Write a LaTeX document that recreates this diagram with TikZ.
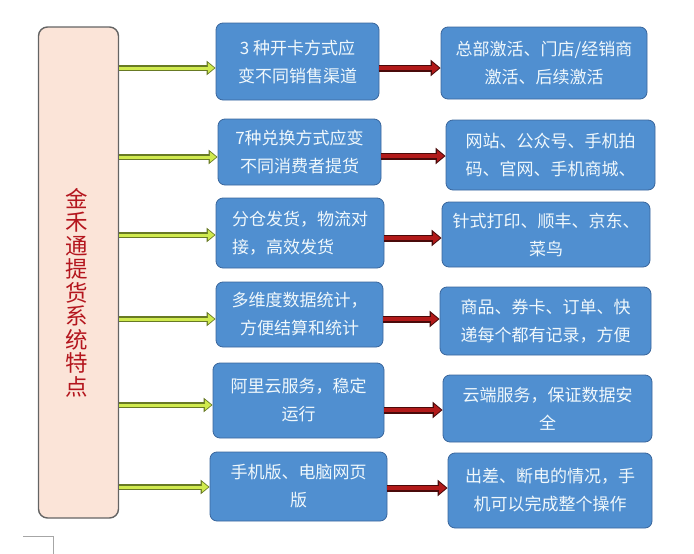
\documentclass[tikz,border=0pt]{standalone}
\usepackage{fontspec}
\setmainfont{Noto Sans CJK SC}
\usetikzlibrary{arrows.meta}
\definecolor{boxblue}{RGB}{80,143,208}
\definecolor{boxedge}{RGB}{58,102,156}
\definecolor{boxtext}{RGB}{240,248,252}
\definecolor{peach}{RGB}{251,228,216}
\definecolor{peachedge}{RGB}{100,100,100}
\definecolor{titlered}{RGB}{180,22,30}
\definecolor{gfill}{RGB}{208,234,78}
\definecolor{gedge}{RGB}{104,122,36}
\definecolor{rfill}{RGB}{178,26,26}
\definecolor{redge}{RGB}{74,10,10}
\tikzset{
  bluebox/.style={draw=boxedge, fill=boxblue, line width=0.8pt, rounded corners=7pt,
    text=boxtext, align=center, inner sep=0pt, font=\fontsize{17}{28}\selectfont},
  garrow/.style={draw=gfill, line width=3pt, shorten >=1.3pt, -{Triangle[length=6.5pt,width=10pt]},
    preaction={draw=gedge, line width=5.5pt, shorten >=0pt, -{Triangle[length=9pt,width=14pt]}}},
  rarrow/.style={draw=rfill, line width=4pt, shorten >=1.5pt, -{Triangle[length=7pt,width=11pt]},
    preaction={draw=redge, line width=7pt, shorten >=0pt, -{Triangle[length=10pt,width=16pt]}}}
}
\begin{document}
\begin{tikzpicture}[x=1pt,y=-1pt]
                \useasboundingbox (0,0) rectangle (694,554);
                \node[draw=peachedge, fill=peach, line width=1.4pt, rounded corners=9pt,
                  minimum width=80pt, minimum height=491pt] (main) at (78.5,272.5) {};
                \node[text=titlered, align=center, inner sep=0pt,
                  font=\fontsize{22.5}{23.5}\selectfont] (title) at (77,292.5)
                  {金\\禾\\通\\提\\货\\系\\统\\特\\点};

                \node[bluebox, minimum width=163pt, minimum height=77pt] (m1) at (297.5,61.5) {3 种开卡方式应\\变不同销售渠道};
                \node[bluebox, minimum width=163pt, minimum height=66pt] (m2) at (299.5,152) {7种兑换方式应变\\不同消费者提货};
                \node[bluebox, minimum width=168pt, minimum height=70pt, align=left] (m3) at (300,233) {分仓发货，物流对\\接，高效发货};
                \node[bluebox, minimum width=167pt, minimum height=65pt] (m4) at (299.5,314.5) {多维度数据统计，\\方便结算和统计};
                \node[bluebox, minimum width=171pt, minimum height=75pt] (m5) at (298.5,400.5) {阿里云服务，稳定\\运行};
                \node[bluebox, minimum width=177pt, minimum height=69pt] (m6) at (298.5,486.5) {手机版、电脑网页\\版};

                \node[bluebox, minimum width=206pt, minimum height=72pt] (r1) at (544,63) {总部激活、门店/经销商\\激活、后续激活};
                \node[bluebox, minimum width=209pt, minimum height=70pt] (r2) at (550.5,155) {网站、公众号、手机拍\\码、官网、手机商城、};
                \node[bluebox, minimum width=208pt, minimum height=65pt] (r3) at (546,234.5) {针式打印、顺丰、京东、\\菜鸟};
                \node[bluebox, minimum width=211pt, minimum height=68pt] (r4) at (545.5,321) {商品、券卡、订单、快\\递每个都有记录，方便};
                \node[bluebox, minimum width=209pt, minimum height=67pt] (r5) at (547.5,408.5) {云端服务，保证数据安\\全};
                \node[bluebox, minimum width=204pt, minimum height=75pt] (r6) at (550,490.5) {出差、断电的情况，手\\机可以完成整个操作};

                \draw[garrow] ([yshift=-6.5pt]main.east |- m1.west) -- ([yshift=-6.5pt]m1.west);
                \draw[garrow] ([yshift=-5pt]main.east |- m2.west) -- ([yshift=-5pt]m2.west);
                \draw[garrow] ([yshift=-2pt]main.east |- m3.west) -- ([yshift=-2pt]m3.west);
                \draw[garrow] ([yshift=-4.5pt]main.east |- m4.west) -- ([yshift=-4.5pt]m4.west);
                \draw[garrow] ([yshift=-4.5pt]main.east |- m5.west) -- ([yshift=-4.5pt]m5.west);
                \draw[garrow] ([yshift=-0.5pt]main.east |- m6.west) -- ([yshift=-0.5pt]m6.west);

                \draw[rarrow] ([yshift=-6.5pt]m1.east) -- ([yshift=-6.5pt]m1.east -| r1.west);
                \draw[rarrow] ([yshift=-4pt]m2.east) -- ([yshift=-4pt]m2.east -| r2.west);
                \draw[rarrow] ([yshift=-5pt]m3.east) -- ([yshift=-5pt]m3.east -| r3.west);
                \draw[rarrow] ([yshift=-4.5pt]m4.east) -- ([yshift=-4.5pt]m4.east -| r4.west);
                \draw[rarrow] ([yshift=-9.5pt]m5.east) -- ([yshift=-9.5pt]m5.east -| r5.west);
                \draw[rarrow] ([yshift=-1.5pt]m6.east) -- ([yshift=-1.5pt]m6.east -| r6.west);

                \draw[gray!70, line width=0.6pt] (23,536) -- (53,536) -- (53,554);
            \end{tikzpicture}
\end{document}
